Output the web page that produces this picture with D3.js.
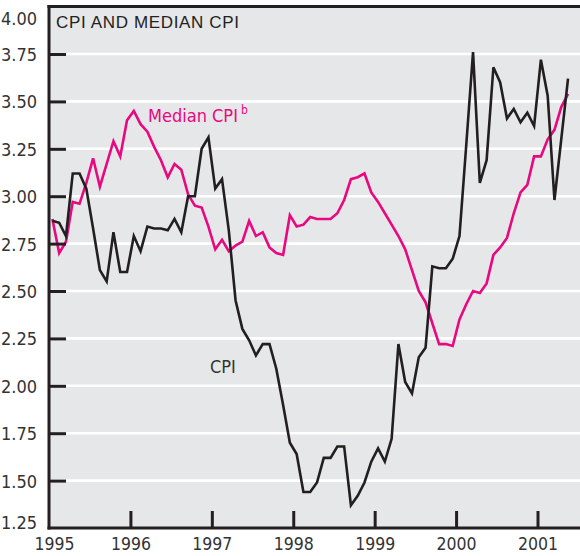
<!DOCTYPE html>
<html>
<head>
<meta charset="utf-8">
<script src="https://cdn.jsdelivr.net/npm/d3@7"></script>
<style>
  html, body { margin: 0; padding: 0; background: #fff; }
  svg { display: block; }
  .narrow { font-family: "Liberation Sans Narrow", "Arial Narrow", "DejaVu Sans Condensed", sans-serif; font-stretch: condensed; }
</style>
</head>
<body>
<svg id="chart" width="580" height="556"></svg>
<script>
// ---- data (monthly, Jan 1995 – May 2001) ----
const startYear = 1995;
const yearTicks = [1995, 1996, 1997, 1998, 1999, 2000, 2001];
const valueTicks = [1.25, 1.50, 1.75, 2.00, 2.25, 2.50, 2.75, 3.00, 3.25, 3.50, 3.75, 4.00];
const titleText = "CPI AND MEDIAN CPI";
const cpiLabel = "CPI";
const medianLabel = "Median CPI";
const medianNote = "b";

const cpi = [
  2.87, 2.86, 2.79, 3.12, 3.12, 3.04, 2.83, 2.61, 2.55, 2.81, 2.60, 2.60,
  2.79, 2.71, 2.84, 2.83, 2.83, 2.82, 2.88, 2.81, 3.00, 3.00, 3.25, 3.31,
  3.04, 3.09, 2.82, 2.45, 2.30, 2.24, 2.16, 2.22, 2.22, 2.09, 1.90, 1.70,
  1.64, 1.44, 1.44, 1.49, 1.62, 1.62, 1.68, 1.68, 1.37, 1.42, 1.49, 1.60,
  1.67, 1.60, 1.72, 2.22, 2.02, 1.96, 2.15, 2.20, 2.63, 2.62, 2.62, 2.67,
  2.79, 3.27, 3.76, 3.07, 3.19, 3.68, 3.60, 3.41, 3.46, 3.39, 3.44, 3.37,
  3.72, 3.53, 2.98, 3.30, 3.62
];
const medianCpi = [
  2.88, 2.70, 2.76, 2.97, 2.96, 3.07, 3.20, 3.05, 3.17, 3.29, 3.21, 3.40,
  3.45, 3.38, 3.34, 3.26, 3.19, 3.10, 3.17, 3.14, 3.01, 2.95, 2.94, 2.84,
  2.72, 2.77, 2.71, 2.74, 2.76, 2.87, 2.79, 2.81, 2.73, 2.70, 2.69, 2.90,
  2.84, 2.85, 2.89, 2.88, 2.88, 2.88, 2.91, 2.98, 3.09, 3.10, 3.12, 3.02,
  2.97, 2.91, 2.85, 2.79, 2.72, 2.61, 2.50, 2.44, 2.33, 2.22, 2.22, 2.21,
  2.35, 2.43, 2.50, 2.49, 2.54, 2.69, 2.73, 2.78, 2.91, 3.02, 3.06, 3.21,
  3.21, 3.30, 3.35, 3.47, 3.54
];

// ---- layout ----
const W = 580, H = 556;
const pLeft = 49, pRight = 580, pTop = 6.6, pBottom = 528;
const ink = "#231f20", magenta = "#e8087f", panel = "#e6e7e8";

const svg = d3.select("#chart");
svg.append("rect").attr("width", W).attr("height", H).attr("fill", "#fff");

const x = d3.scaleLinear().domain([1995, 2001.522]).range([pLeft, pRight]);
const y = d3.scaleLinear().domain([1.25, 4.00]).range([pBottom, pTop]);

svg.append("rect")
  .attr("x", pLeft).attr("y", pTop)
  .attr("width", pRight - pLeft).attr("height", pBottom - pTop)
  .attr("fill", panel);

// gridlines
svg.append("g").selectAll("line")
  .data(valueTicks.filter(v => v > 1.25 && v < 4.0))
  .join("line")
  .attr("x1", pLeft).attr("x2", pRight)
  .attr("y1", d => y(d)).attr("y2", d => y(d))
  .attr("stroke", "#fff").attr("stroke-width", 2.6);

// lines
const toDate = i => startYear + (i + 0.5) / 12;
const line = d3.line().x((d, i) => x(toDate(i))).y(d => y(d));

svg.append("path").datum(medianCpi)
  .attr("d", line).attr("fill", "none")
  .attr("stroke", magenta).attr("stroke-width", 2.6)
  .attr("stroke-linejoin", "miter");

svg.append("path").datum(cpi)
  .attr("d", line).attr("fill", "none")
  .attr("stroke", ink).attr("stroke-width", 2.6)
  .attr("stroke-linejoin", "miter");

// y axis
const yAxis = d3.axisLeft(y)
  .tickValues(valueTicks)
  .tickFormat(d3.format(".2f"))
  .tickSize(-17).tickPadding(12);
const gy = svg.append("g").attr("transform", `translate(${pLeft},0)`).call(yAxis);
gy.select(".domain").remove();
gy.selectAll(".tick line").attr("stroke", ink).attr("stroke-width", 3)
  .filter(d => d === 1.25 || d === 4.0).remove();
gy.selectAll(".tick text")
  .attr("class", "narrow")
  .attr("font-size", 18).attr("fill", "#333")
  .attr("dy", d => d === 4.0 ? "1.0em" : d === 1.25 ? "0.0em" : "0.36em");

// x axis
const xAxis = d3.axisBottom(x)
  .tickValues(yearTicks)
  .tickFormat(d3.format("d"))
  .tickSize(-17).tickPadding(10);
const gx = svg.append("g").attr("transform", `translate(0,${pBottom})`).call(xAxis);
gx.select(".domain").remove();
gx.selectAll(".tick line").attr("stroke", ink).attr("stroke-width", 3)
  .filter(d => d === 1995).remove();
gx.selectAll(".tick text")
  .attr("class", "narrow")
  .attr("font-size", 17.5).attr("fill", "#333")
  .attr("dx", d => d === 1995 ? 5 : 0);

// frame: top border, left axis, bottom axis
svg.append("line").attr("x1", pLeft - 1.5).attr("x2", pRight).attr("y1", pTop).attr("y2", pTop)
  .attr("stroke", ink).attr("stroke-width", 3);
svg.append("line").attr("x1", pLeft).attr("x2", pLeft).attr("y1", pTop - 1.5).attr("y2", pBottom + 1.5)
  .attr("stroke", ink).attr("stroke-width", 3);
svg.append("line").attr("x1", pLeft - 1.5).attr("x2", pRight).attr("y1", pBottom).attr("y2", pBottom)
  .attr("stroke", ink).attr("stroke-width", 3);

// title
svg.append("text")
  .attr("x", 56).attr("y", 28)
  .attr("font-family", "'Liberation Sans', Arial, sans-serif")
  .attr("font-size", 17).attr("fill", "#222")
  .attr("textLength", 183).attr("lengthAdjust", "spacing")
  .text(titleText);

// series labels
const mt = svg.append("text")
  .attr("class", "narrow")
  .attr("x", 148).attr("y", 122)
  .attr("font-size", 18).attr("fill", magenta);
mt.append("tspan").text(medianLabel);
mt.append("tspan").attr("dx", 3).attr("dy", -8).attr("font-size", 12).text(medianNote);

svg.append("text")
  .attr("class", "narrow")
  .attr("x", 210).attr("y", 373)
  .attr("font-size", 18).attr("fill", "#333")
  .text(cpiLabel);
</script>
</body>
</html>
